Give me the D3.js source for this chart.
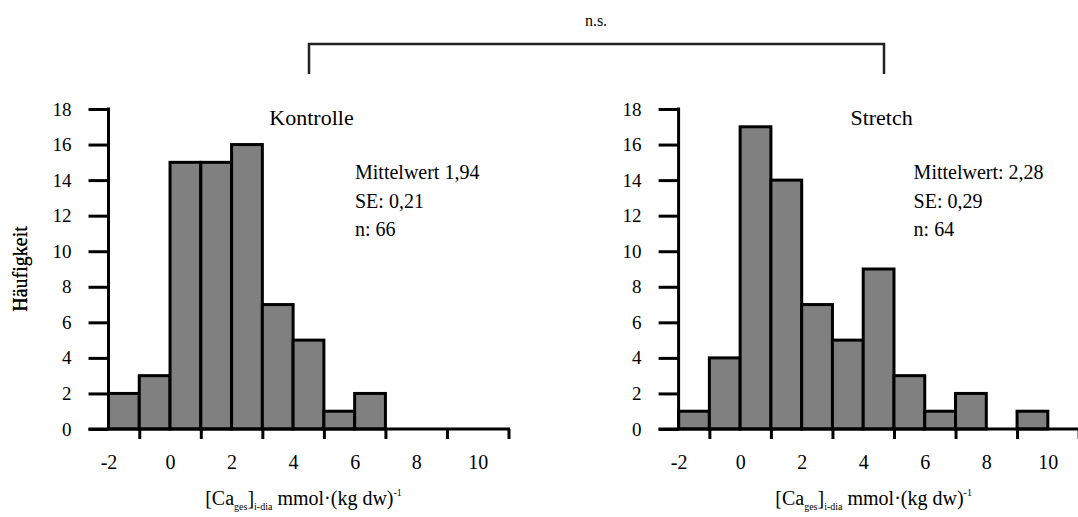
<!DOCTYPE html>
<html>
<head>
<meta charset="utf-8">
<script src="https://cdn.jsdelivr.net/npm/d3@7"></script>
<style>
  body { margin: 0; background: #fff; }
  svg text { font-family: "Times New Roman", "Liberation Serif", "DejaVu Serif", Times, serif; fill: #000; }
</style>
</head>
<body>
<div id="chart"></div>
<script>
// Histogram data (bin start values, counts per bin)
const binStarts = [-2, -1, 0, 1, 2, 3, 4, 5, 6, 7, 8, 9, 10];
const kontrolleCounts = [2, 3, 15, 15, 16, 7, 5, 1, 2, 0, 0, 0, 0];
const stretchCounts = [1, 4, 17, 14, 7, 5, 9, 3, 1, 2, 0, 1, 0];
const xTickLabels = [-2, 0, 2, 4, 6, 8, 10];
const xTickMarks = [-1, 1, 3, 5, 7, 9, 11];
const yTicks = [0, 2, 4, 6, 8, 10, 12, 14, 16, 18];
const kontrolleStats = ['Mittelwert 1,94', 'SE: 0,21', 'n: 66'];
const stretchStats = ['Mittelwert: 2,28', 'SE: 0,29', 'n: 64'];

const W = 1078, H = 517;
const PW = 400, PH = 320;
const SERIF = '"Times New Roman", "Liberation Serif", "DejaVu Serif", Times, serif';

const svg = d3.select('#chart').append('svg')
  .attr('width', W)
  .attr('height', H)
  .attr('font-family', SERIF);

// Significance bracket on top
svg.append('path')
  .attr('d', 'M309,74V44H884V74')
  .attr('fill', 'none')
  .attr('stroke', '#222')
  .attr('stroke-width', 2.5);
svg.append('text')
  .attr('x', 596).attr('y', 26)
  .attr('text-anchor', 'middle')
  .attr('font-size', '16px')
  .text('n.s.');

function drawPanel(x0, y0, counts, title, stats, statsX) {
  const g = svg.append('g').attr('transform', `translate(${x0},${y0})`);

  const x = d3.scaleLinear().domain([-2, 11]).range([0, PW]);
  const y = d3.scaleLinear().domain([0, 18]).range([PH, 0]);

  const bins = binStarts.map((b, i) => ({ start: b, count: counts[i] }))
    .filter(d => d.count > 0);

  // Bars
  g.append('g')
    .selectAll('rect')
    .data(bins)
    .join('rect')
    .attr('x', d => x(d.start))
    .attr('width', d => x(d.start + 1) - x(d.start))
    .attr('y', d => y(d.count))
    .attr('height', d => y(0) - y(d.count))
    .attr('fill', '#808080')
    .attr('stroke', '#000')
    .attr('stroke-width', 3);

  // Y axis
  const yAxis = g.append('g')
    .call(d3.axisLeft(y).tickValues(yTicks).tickSize(20).tickPadding(17).tickFormat(d => String(d)))
    .attr('font-family', SERIF)
    .attr('font-size', 19);
  yAxis.select('.domain').remove();
  yAxis.selectAll('.tick line').attr('stroke-width', 3);
  g.append('line')
    .attr('x1', 0).attr('x2', 0)
    .attr('y1', y(18) - 1.5).attr('y2', y(0))
    .attr('stroke', '#000').attr('stroke-width', 3);

  // X axis: line, tick marks at odd values, labels at even values
  g.append('line')
    .attr('x1', -20).attr('x2', x(11) + 1.5)
    .attr('y1', y(0)).attr('y2', y(0))
    .attr('stroke', '#000').attr('stroke-width', 3);

  const xMarks = g.append('g')
    .attr('transform', `translate(0,${PH})`)
    .call(d3.axisBottom(x).tickValues(xTickMarks).tickSize(10).tickFormat(''));
  xMarks.select('.domain').remove();
  xMarks.selectAll('.tick line').attr('stroke-width', 3);

  const xLabels = g.append('g')
    .attr('transform', `translate(0,${PH})`)
    .call(d3.axisBottom(x).tickValues(xTickLabels).tickSize(0).tickPadding(26).tickFormat(d => String(d)))
    .attr('font-family', SERIF)
    .attr('font-size', 20);
  xLabels.select('.domain').remove();

  // Panel title
  g.append('text')
    .attr('x', PW / 2 + 3).attr('y', 16)
    .attr('text-anchor', 'middle')
    .attr('font-size', '22px')
    .text(title);

  // Stats block
  stats.forEach((s, i) => {
    g.append('text')
      .attr('x', statsX).attr('y', 70 + i * 28.7)
      .attr('font-size', '20px')
      .text(s);
  });

  // Y axis label
  g.append('text')
    .attr('transform', `translate(${27 - x0},${PH / 2}) rotate(-90)`)
    .attr('text-anchor', 'middle')
    .attr('font-size', '20px')
    .text('Häufigkeit');

  // X axis title with sub/superscripts
  const xt = g.append('text')
    .attr('x', PW / 2 - 5).attr('y', 396)
    .attr('text-anchor', 'middle')
    .attr('font-size', '20px');
  xt.append('tspan').text('[Ca');
  xt.append('tspan').attr('font-size', '10px').attr('dy', 5).text('ges');
  xt.append('tspan').attr('dy', -5).text(']');
  xt.append('tspan').attr('font-size', '10px').attr('dy', 5).text('i-dia');
  xt.append('tspan').attr('dy', -5).text(' mmol·(kg dw)');
  xt.append('tspan').attr('font-size', '10px').attr('dy', -9).text('-1');
}

drawPanel(108.5, 109, kontrolleCounts, 'Kontrolle', kontrolleStats, 246.5);
drawPanel(678.6, 109, stretchCounts, 'Stretch', stretchStats, 235);
</script>
</body>
</html>
